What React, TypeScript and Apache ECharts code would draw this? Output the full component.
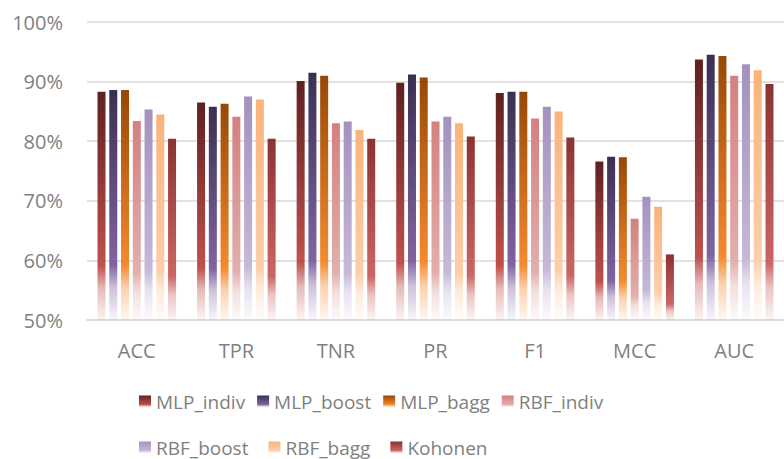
import React, { useEffect, useRef } from "react";
import * as echarts from "echarts";

const categories = ["ACC", "TPR", "TNR", "PR", "F1", "MCC", "AUC"];
const seriesNames = ["MLP_indiv", "MLP_boost", "MLP_bagg", "RBF_indiv", "RBF_boost", "RBF_bagg", "Kohonen"];
const MLP_indiv = [88.3, 86.5, 90.1, 89.8, 88.1, 76.6, 93.7];
const MLP_boost = [88.6, 85.8, 91.5, 91.2, 88.3, 77.4, 94.5];
const MLP_bagg = [88.6, 86.3, 91.0, 90.7, 88.3, 77.3, 94.3];
const RBF_indiv = [83.4, 84.1, 83.0, 83.3, 83.8, 67.0, 91.0];
const RBF_boost = [85.3, 87.5, 83.3, 84.1, 85.8, 70.7, 92.9];
const RBF_bagg = [84.5, 87.0, 81.9, 83.0, 85.0, 69.0, 91.9];
const Kohonen = [80.4, 80.4, 80.4, 80.8, 80.6, 61.0, 89.6];
const yTicks = [50, 60, 70, 80, 90, 100];

const seriesData = [MLP_indiv, MLP_boost, MLP_bagg, RBF_indiv, RBF_boost, RBF_bagg, Kohonen];
const topColors = ["#5F2020", "#3B2F52", "#974806", "#D4807E", "#A491BE", "#F9B37A", "#8B3230"];
const midColors = ["#C0504D", "#8064A2", "#F58A2E", "#E2AEAC", "#C5B8D8", "#FBCFAB", "#CC6664"];

function hexToRgba(hex: string, a: number) {
  const n = parseInt(hex.slice(1), 16);
  return `rgba(${(n >> 16) & 255},${(n >> 8) & 255},${n & 255},${a})`;
}

function grad(i: number) {
  return new echarts.graphic.LinearGradient(0, 0, 0, 1, [
    { offset: 0, color: topColors[i] },
    { offset: 0.76, color: midColors[i] },
    { offset: 0.86, color: hexToRgba(midColors[i], 0.4) },
    { offset: 1, color: hexToRgba(midColors[i], 0.06) },
  ]);
}

const FONT = "'Open Sans', sans-serif";
const GRAY = "#7F7F7F";

export default function App() {
  const ref = useRef<HTMLDivElement>(null);
  useEffect(() => {
    if (!ref.current) return;
    const chart = echarts.init(ref.current, null, { renderer: "svg" });
    const legendCommon = {
      icon: "rect",
      itemWidth: 12,
      itemHeight: 12,
      padding: 0,
      textStyle: { color: GRAY, fontSize: 19, fontFamily: FONT },
      orient: "horizontal" as const,
    };
    chart.setOption({
      animation: false,
      backgroundColor: "#fff",
      textStyle: { fontFamily: FONT },
      grid: { left: 87, right: -15, top: 22, bottom: 139, containLabel: false },
      legend: [
        { ...legendCommon, data: seriesNames.slice(0, 4), left: 139, top: 392, itemGap: 12 },
        { ...legendCommon, data: seriesNames.slice(4), left: 139, top: 438, itemGap: 20 },
      ],
      xAxis: {
        type: "category",
        data: categories,
        axisLine: { show: true, lineStyle: { color: "#D9D9D9", width: 1.5 } },
        axisTick: { show: false },
        axisLabel: { color: GRAY, fontSize: 20, fontFamily: FONT, margin: 20 },
      },
      yAxis: {
        type: "value",
        min: yTicks[0],
        max: yTicks[yTicks.length - 1],
        interval: 10,
        axisLine: { show: false },
        axisTick: { show: false },
        splitLine: { lineStyle: { color: "#D9D9D9", width: 1.5 } },
        axisLabel: { color: GRAY, fontSize: 20, fontFamily: FONT, margin: 24, formatter: "{value}%" },
      },
      series: seriesNames.map((name, i) => ({
        name,
        type: "bar",
        data: seriesData[i],
        barWidth: 8,
        barGap: "47%",
        itemStyle: { color: grad(i) },
      })),
    });
    return () => chart.dispose();
  }, []);
  return <div ref={ref} style={{ position: "fixed", left: 0, top: 0, width: 784, height: 459 }} />;
}
